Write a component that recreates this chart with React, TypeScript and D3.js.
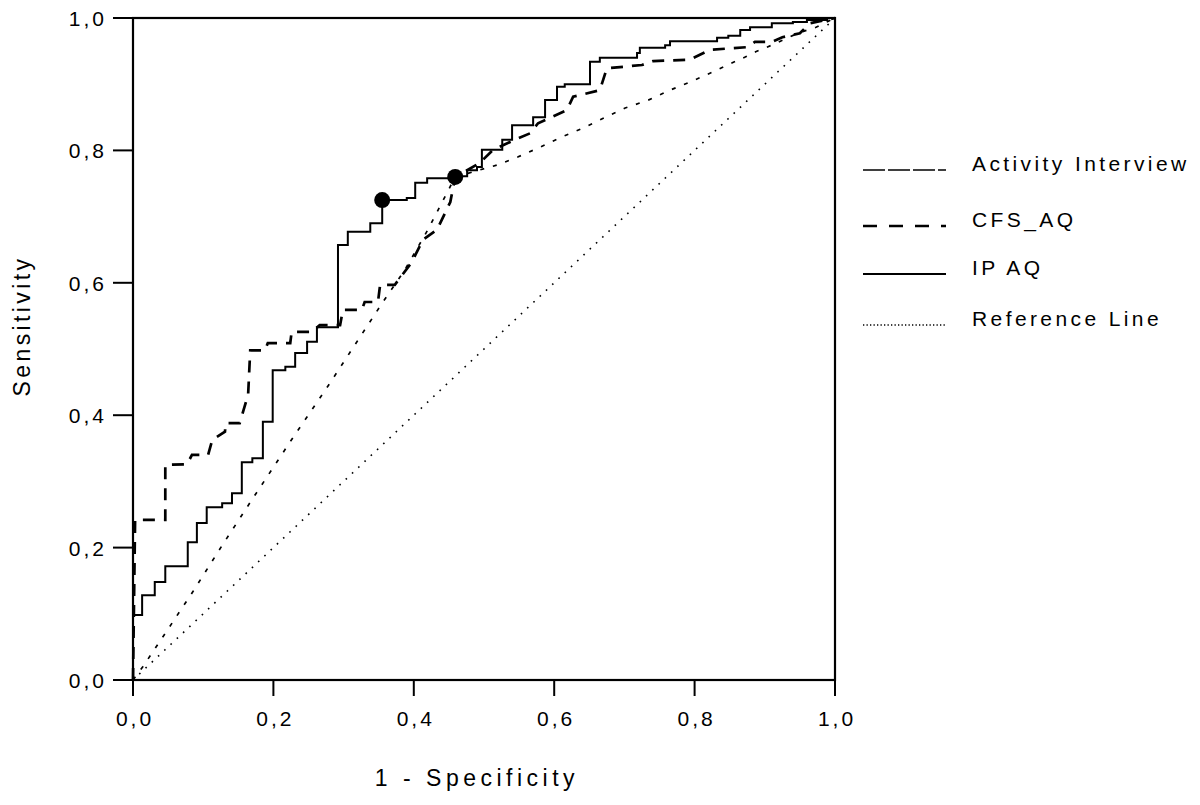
import React, { useEffect, useRef } from 'react';
import * as d3 from 'd3';

const xTicks = [0, 0.2, 0.4, 0.6, 0.8, 1.0];
const yTicks = [0, 0.2, 0.4, 0.6, 0.8, 1.0];

// IPAQ ROC corners [1 - specificity, sensitivity], drawn as rise-then-run steps
const ipaq: [number, number][] = [
  [0, 0], [0.013, 0.098], [0.031, 0.128], [0.046, 0.148], [0.078, 0.172],
  [0.091, 0.208], [0.105, 0.237], [0.127, 0.261], [0.141, 0.267], [0.155, 0.282],
  [0.17, 0.329], [0.185, 0.335], [0.199, 0.39], [0.217, 0.468], [0.231, 0.473],
  [0.248, 0.494], [0.262, 0.511], [0.292, 0.533], [0.306, 0.657], [0.338, 0.677],
  [0.355, 0.69], [0.39, 0.725], [0.402, 0.728], [0.419, 0.751], [0.459, 0.758],
  [0.476, 0.761], [0.49, 0.77], [0.497, 0.775], [0.526, 0.801], [0.54, 0.816],
  [0.57, 0.838], [0.587, 0.85], [0.604, 0.876], [0.615, 0.896], [0.651, 0.9],
  [0.665, 0.934], [0.718, 0.94], [0.722, 0.947], [0.758, 0.955], [0.765, 0.959],
  [0.832, 0.965], [0.848, 0.97], [0.865, 0.973], [0.879, 0.982], [0.91, 0.986],
  [0.94, 0.992], [0.96, 0.994], [0.989, 0.997], [1, 1],
];

// CFS_AQ ROC vertices
const cfsAq: [number, number][] = [
  [0, 0], [0.003, 0.242], [0.046, 0.242], [0.046, 0.325], [0.077, 0.326],
  [0.084, 0.34], [0.107, 0.34], [0.113, 0.363], [0.131, 0.375], [0.132, 0.388],
  [0.152, 0.388], [0.164, 0.431], [0.167, 0.498], [0.188, 0.498], [0.192, 0.509],
  [0.224, 0.509], [0.226, 0.526], [0.255, 0.526], [0.266, 0.536], [0.295, 0.536],
  [0.299, 0.559], [0.326, 0.559], [0.33, 0.571], [0.349, 0.571], [0.352, 0.597],
  [0.373, 0.597], [0.397, 0.631], [0.413, 0.665], [0.433, 0.68], [0.452, 0.722],
  [0.459, 0.76], [0.476, 0.77], [0.494, 0.781], [0.513, 0.801], [0.544, 0.816],
  [0.566, 0.826], [0.577, 0.841], [0.618, 0.861], [0.627, 0.881], [0.665, 0.891],
  [0.675, 0.924], [0.725, 0.929], [0.741, 0.935], [0.793, 0.937], [0.822, 0.952],
  [0.875, 0.956], [0.886, 0.964], [0.91, 0.964], [0.925, 0.971], [0.95, 0.977],
  [0.964, 0.992], [1, 1],
];

// Activity Interview ROC vertices
const activity: [number, number][] = [
  [0, 0], [0.014, 0.02], [0.05, 0.077], [0.085, 0.133], [0.128, 0.205],
  [0.168, 0.27], [0.224, 0.36], [0.279, 0.446], [0.319, 0.511], [0.356, 0.571],
  [0.387, 0.619], [0.42, 0.68], [0.459, 0.76], [0.519, 0.778], [0.548, 0.79],
  [0.58, 0.805], [0.608, 0.819], [0.642, 0.834], [0.671, 0.849], [0.701, 0.864],
  [0.734, 0.876], [0.765, 0.891], [0.793, 0.903], [0.825, 0.918], [0.853, 0.932],
  [0.872, 0.941], [0.887, 0.949], [0.91, 0.959], [0.947, 0.977], [0.973, 0.986],
  [1, 1],
];

const referenceLine: [number, number][] = [[0, 0], [1, 1]];

// marked cut-off points
const cutPoints: [number, number][] = [[0.355, 0.725], [0.459, 0.76]];

const legendLabels = ['Activity Interview', 'CFS_AQ', 'IP AQ', 'Reference Line'];

const App = () => {
  const svgRef = useRef<SVGSVGElement>(null);

  useEffect(() => {
    if (!svgRef.current) return;
    const svg = d3.select(svgRef.current);
    svg.selectAll('*').remove();

    const font = '"Liberation Sans", Arial, sans-serif';
    const x = d3.scaleLinear().domain([0, 1]).range([133, 835]);
    const y = d3.scaleLinear().domain([0, 1]).range([680, 18]);
    const fmt = (d: number) => d.toFixed(1).replace('.', ',');

    svg.append('rect').attr('width', 1200).attr('height', 805).attr('fill', '#fff');

    // frame
    svg.append('rect')
      .attr('x', x(0)).attr('y', y(1))
      .attr('width', x(1) - x(0)).attr('height', y(0) - y(1))
      .attr('fill', 'none').attr('stroke', '#000').attr('stroke-width', 2.2);

    // y ticks
    const yg = svg.append('g');
    yTicks.forEach(t => {
      yg.append('line')
        .attr('x1', x(0) - 20).attr('x2', x(0))
        .attr('y1', y(t)).attr('y2', y(t))
        .attr('stroke', '#000').attr('stroke-width', 2);
      yg.append('text')
        .attr('x', x(0) - 26).attr('y', y(t) + 8)
        .attr('text-anchor', 'end')
        .attr('font-family', font).attr('font-size', 21)
        .attr('letter-spacing', 3)
        .text(fmt(t));
    });

    // x ticks
    const xg = svg.append('g');
    xTicks.forEach(t => {
      xg.append('line')
        .attr('x1', x(t)).attr('x2', x(t))
        .attr('y1', y(0)).attr('y2', y(0) + 16)
        .attr('stroke', '#000').attr('stroke-width', 2);
      xg.append('text')
        .attr('x', x(t) + 2).attr('y', y(0) + 46)
        .attr('text-anchor', 'middle')
        .attr('font-family', font).attr('font-size', 21)
        .attr('letter-spacing', 3)
        .text(fmt(t));
    });

    // axis titles
    svg.append('text')
      .attr('x', 477).attr('y', 786)
      .attr('text-anchor', 'middle')
      .attr('font-family', font).attr('font-size', 23)
      .attr('letter-spacing', 4.5)
      .text('1 - Specificity');

    svg.append('text')
      .attr('transform', 'translate(30,326) rotate(-90)')
      .attr('text-anchor', 'middle')
      .attr('font-family', font).attr('font-size', 23)
      .attr('letter-spacing', 3.4)
      .text('Sensitivity');

    const line = d3.line<[number, number]>().x(d => x(d[0])).y(d => y(d[1]));
    const stepLine = d3.line<[number, number]>().x(d => x(d[0])).y(d => y(d[1])).curve(d3.curveStepBefore);

    // reference line
    svg.append('path')
      .attr('d', line(referenceLine))
      .attr('fill', 'none').attr('stroke', '#000')
      .attr('stroke-width', 1.6).attr('stroke-dasharray', '1.6,7');

    // Activity Interview
    svg.append('path')
      .attr('d', line(activity))
      .attr('fill', 'none').attr('stroke', '#000')
      .attr('stroke-width', 1.7).attr('stroke-dasharray', '4,9');

    // CFS_AQ
    svg.append('path')
      .attr('d', line(cfsAq))
      .attr('fill', 'none').attr('stroke', '#000')
      .attr('stroke-width', 2.7).attr('stroke-dasharray', '12,9');

    // IPAQ
    svg.append('path')
      .attr('d', stepLine(ipaq))
      .attr('fill', 'none').attr('stroke', '#000')
      .attr('stroke-width', 2);

    svg.append('g').selectAll('circle')
      .data(cutPoints).enter().append('circle')
      .attr('cx', d => x(d[0])).attr('cy', d => y(d[1]))
      .attr('r', 8).attr('fill', '#000');

    // legend
    const legendY = [170, 226, 274, 325];
    const dashes = ['22,3', '14,12', null, '1.3,2.2'];
    const widths = [1.3, 2.4, 1.8, 1.3];
    const lg = svg.append('g');
    legendLabels.forEach((label, i) => {
      const l = lg.append('line')
        .attr('x1', 863).attr('x2', 946)
        .attr('y1', legendY[i]).attr('y2', legendY[i])
        .attr('stroke', '#000').attr('stroke-width', widths[i]);
      if (dashes[i]) l.attr('stroke-dasharray', dashes[i] as string);
      lg.append('text')
        .attr('x', 972).attr('y', legendY[i] + 1)
        .attr('font-family', font).attr('font-size', 21)
        .attr('letter-spacing', 3.4)
        .text(label);
    });
  }, []);

  return (
    <div style={{ position: 'fixed', top: 0, left: 0, width: 1200, height: 805, background: '#fff' }}>
      <svg ref={svgRef} width={1200} height={805} style={{ display: 'block' }} />
    </div>
  );
};

export default App;
